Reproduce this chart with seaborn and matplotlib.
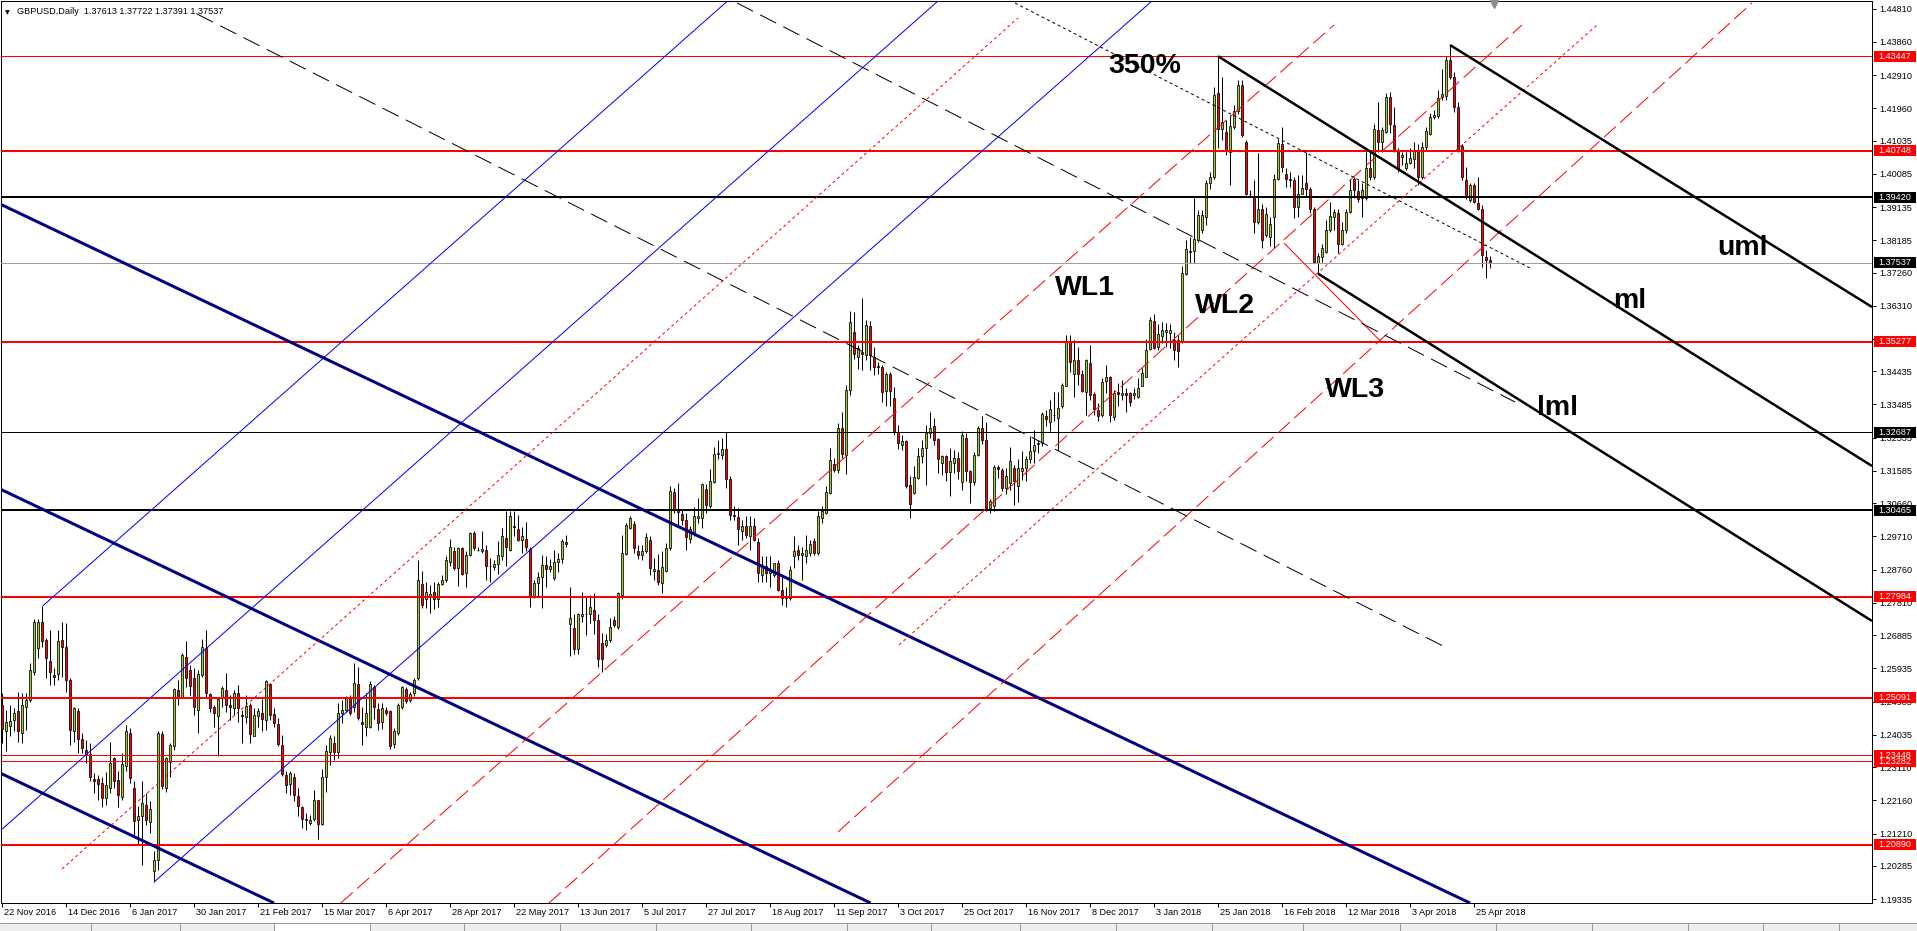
import numpy as np
import pandas as pd
import matplotlib
matplotlib.use("Agg")
import matplotlib.pyplot as plt
import matplotlib.transforms as mtransforms
from matplotlib.patches import Rectangle
import seaborn as sns

# ---------------- data (GBPUSD daily) ----------------
opens = [
1.2489,1.2413,1.2430,1.2446,1.2472,1.2408,1.2484,1.2503,1.2582,1.2651,
1.2727,1.2675,1.2615,1.2575,1.2577,1.2675,1.2656,1.2560,1.2413,1.2472,
1.2391,1.2360,1.2349,1.2277,1.2278,1.2265,1.2222,1.2251,1.2337,1.2275,
1.2225,1.2315,1.2408,1.2251,1.2159,1.2172,1.2202,1.2153,1.2015,1.2046,
1.2406,1.2251,1.2327,1.2370,1.2532,1.2513,1.2627,1.2589,1.2565,1.2473,
1.2575,1.2651,1.2519,1.2484,1.2458,1.2508,1.2532,1.2489,1.2479,1.2522,
1.2460,1.2454,1.2489,1.2400,1.2456,1.2465,1.2446,1.2549,1.2462,1.2434,
1.2375,1.2289,1.2262,1.2283,1.2229,1.2197,1.2162,1.2151,1.2162,1.2216,
1.2149,1.2283,1.2354,1.2381,1.2353,1.2467,1.2475,1.2511,1.2484,1.2548,
1.2440,1.2427,1.2427,1.2541,1.2477,1.2441,1.2475,1.2472,1.2377,1.2408,
1.2482,1.2535,1.2503,1.2522,1.2567,1.2835,1.2791,1.2798,1.2813,1.2791,
1.2835,1.2847,1.2899,1.2928,1.2880,1.2937,1.2866,1.2918,1.2981,1.2933,
1.2928,1.2933,1.2885,1.2883,1.2892,1.2914,1.2966,1.2933,1.3000,1.2992,
1.2961,1.2963,1.2935,1.2798,1.2837,1.2854,1.2890,1.2877,1.2851,1.2899,
1.2906,1.2954,1.2721,1.2710,1.2650,1.2743,1.2748,1.2750,1.2761,1.2731,
1.2665,1.2660,1.2674,1.2733,1.2712,1.2804,1.2921,1.2995,1.3007,1.2930,
1.2917,1.2928,1.2961,1.2872,1.2875,1.2839,1.2873,1.2937,1.3098,1.3048,
1.3036,1.3019,1.2963,1.2983,1.3024,1.3024,1.3106,1.3058,1.3127,1.3206,
1.3203,1.3222,1.3136,1.3033,1.3027,1.2987,1.3002,1.2971,1.3002,1.2954,
1.2861,1.2887,1.2866,1.2861,1.2894,1.2819,1.2794,1.2794,1.2914,1.2933,
1.2918,1.2915,1.2923,1.2958,1.2923,1.3025,1.3039,1.3096,1.3177,1.3160,
1.3281,1.3205,1.3391,1.3556,1.3485,1.3499,1.3489,1.3573,1.3483,1.3458,
1.3455,1.3388,1.3437,1.3366,1.3271,1.3233,1.3243,1.3117,1.3096,1.3139,
1.3202,1.3224,1.3266,1.3286,1.3249,1.3181,1.3200,1.3156,1.3181,1.3195,
1.3126,1.3252,1.3157,1.3126,1.3205,1.3281,1.3248,1.3053,1.3058,1.3170,
1.3162,1.3110,1.3124,1.3167,1.3115,1.3157,1.3167,1.3193,1.3214,1.3236,
1.3238,1.3316,1.3297,1.3318,1.3310,1.3343,1.3401,1.3528,1.3437,1.3475,
1.3437,1.3385,1.3466,1.3379,1.3333,1.3319,1.3417,1.3426,1.3314,1.3385,
1.3376,1.3381,1.3381,1.3376,1.3371,1.3401,1.3428,1.3506,1.3587,1.3512,
1.3544,1.3556,1.3553,1.3534,1.3532,1.3528,1.3723,1.3788,1.3788,1.3820,
1.3847,1.3885,1.3981,1.4000,1.4240,1.4138,1.4128,1.4071,1.4143,1.4188,
1.4262,1.4100,1.3952,1.3942,1.3871,1.3909,1.3833,1.3828,1.3885,1.3995,
1.4095,1.4009,1.3995,1.3992,1.3914,1.3952,1.3983,1.3964,1.3907,1.3754,
1.3771,1.3785,1.3847,1.3885,1.3895,1.3807,1.3847,1.3900,1.3995,1.3960,
1.3938,1.3938,1.4024,1.4000,1.4135,1.4100,1.4128,1.4227,1.4148,1.4074,
1.4057,1.4024,1.4040,1.4052,1.4076,1.4000,1.4084,1.4122,1.4170,1.4173,
1.4227,1.4230,1.4333,1.4286,1.4200,1.4087,1.3992,1.3933,1.3976,1.3924,
1.3909,1.3770,1.37613]

highs = [
1.2522,1.2475,1.2489,1.2479,1.2527,1.2522,1.2522,1.2608,1.2736,1.2736,
1.2772,1.2679,1.2703,1.2594,1.2703,1.2727,1.2722,1.2565,1.2484,1.2479,
1.2408,1.2389,1.2380,1.2294,1.2289,1.2284,1.2296,1.2384,1.2341,1.2299,
1.2351,1.2432,1.2424,1.2270,1.2199,1.2270,1.2237,1.2213,1.2070,1.2413,
1.2413,1.2341,1.2380,1.2537,1.2560,1.2638,1.2672,1.2603,1.2594,1.2589,
1.2677,1.2703,1.2522,1.2489,1.2513,1.2543,1.2579,1.2518,1.2532,1.2546,
1.2475,1.2518,1.2494,1.2479,1.2479,1.2505,1.2560,1.2553,1.2479,1.2451,
1.2403,1.2299,1.2299,1.2294,1.2251,1.2201,1.2180,1.2175,1.2246,1.2218,
1.2305,1.2375,1.2403,1.2399,1.2494,1.2503,1.2515,1.2518,1.2610,1.2597,
1.2484,1.2522,1.2556,1.2546,1.2494,1.2494,1.2484,1.2475,1.2422,1.2494,
1.2543,1.2539,1.2527,1.2565,1.2904,1.2873,1.2842,1.2832,1.2840,1.2842,
1.2861,1.2914,1.2964,1.2942,1.2942,1.2942,1.2928,1.2983,1.2987,1.2940,
1.2987,1.2947,1.2909,1.2904,1.2959,1.2995,1.3043,1.3043,1.3043,1.3033,
1.2998,1.3011,1.2942,1.2847,1.2870,1.2918,1.2914,1.2906,1.2933,1.2923,
1.2964,1.2976,1.2827,1.2750,1.2752,1.2813,1.2800,1.2804,1.2809,1.2750,
1.2694,1.2693,1.2739,1.2743,1.2813,1.2976,1.3010,1.3029,1.3015,1.2946,
1.2947,1.2981,1.2972,1.2909,1.2921,1.2928,1.2952,1.3115,1.3110,1.3125,
1.3046,1.3038,1.3000,1.3056,1.3082,1.3125,1.3120,1.3163,1.3227,1.3248,
1.3254,1.3269,1.3144,1.3058,1.3053,1.3019,1.3029,1.3029,1.3024,1.2966,
1.2914,1.2914,1.2916,1.2896,1.2904,1.2856,1.2827,1.2885,1.2971,1.2947,
1.2942,1.2976,1.2961,1.2966,1.3043,1.3058,1.3115,1.3224,1.3196,1.3295,
1.3326,1.3404,1.3616,1.3613,1.3520,1.3654,1.3589,1.3587,1.3512,1.3471,
1.3461,1.3442,1.3442,1.3398,1.3290,1.3262,1.3248,1.3143,1.3172,1.3224,
1.3248,1.3290,1.3328,1.3309,1.3254,1.3205,1.3205,1.3224,1.3219,1.3212,
1.3272,1.3266,1.3160,1.3212,1.3286,1.3316,1.3297,1.3077,1.3174,1.3176,
1.3167,1.3167,1.3227,1.3176,1.3193,1.3214,1.3200,1.3257,1.3276,1.3248,
1.3328,1.3333,1.3362,1.3383,1.3385,1.3409,1.3547,1.3547,1.3534,1.3513,
1.3447,1.3480,1.3518,1.3385,1.3352,1.3423,1.3461,1.3430,1.3390,1.3409,
1.3419,1.3395,1.3385,1.3395,1.3423,1.3452,1.3537,1.3599,1.3608,1.3580,
1.3585,1.3582,1.3580,1.3556,1.3547,1.3746,1.3819,1.3828,1.3943,1.3904,
1.3904,1.3990,1.4014,1.4257,1.4345,1.4286,1.4162,1.4176,1.4205,1.4278,
1.4278,1.4105,1.3962,1.3990,1.4067,1.3923,1.3914,1.3885,1.4009,1.4107,
1.4141,1.4024,1.4014,1.4000,1.4005,1.4005,1.4071,1.3971,1.3914,1.3781,
1.3809,1.3876,1.3928,1.3909,1.3909,1.3871,1.3909,1.3995,1.4000,1.3990,
1.3981,1.4071,1.4071,1.4152,1.4214,1.4143,1.4240,1.4243,1.4200,1.4081,
1.4071,1.4071,1.4081,1.4100,1.4095,1.4100,1.4143,1.4183,1.4190,1.4248,
1.4309,1.4345,1.4377,1.4300,1.4214,1.4095,1.4028,1.3981,1.3981,1.4000,
1.3919,1.3790,1.37722]

lows = [
1.2380,1.2356,1.2399,1.2413,1.2384,1.2381,1.2418,1.2496,1.2575,1.2622,
1.2656,1.2565,1.2546,1.2546,1.2560,1.2570,1.2527,1.2375,1.2384,1.2351,
1.2351,1.2322,1.2270,1.2237,1.2218,1.2196,1.2203,1.2237,1.2251,1.2196,
1.2218,1.2299,1.2265,1.2113,1.2089,1.2032,1.2146,1.2122,1.1983,1.2018,
1.2248,1.2241,1.2284,1.2360,1.2489,1.2508,1.2541,1.2518,1.2460,1.2408,
1.2570,1.2513,1.2470,1.2427,1.2343,1.2484,1.2470,1.2446,1.2460,1.2441,
1.2380,1.2438,1.2380,1.2399,1.2427,1.2413,1.2418,1.2446,1.2427,1.2370,
1.2286,1.2237,1.2232,1.2213,1.2170,1.2137,1.2130,1.2144,1.2156,1.2105,
1.2144,1.2240,1.2318,1.2332,1.2337,1.2437,1.2470,1.2460,1.2470,1.2446,
1.2375,1.2399,1.2422,1.2448,1.2418,1.2420,1.2460,1.2362,1.2365,1.2403,
1.2477,1.2495,1.2498,1.2515,1.2560,1.2765,1.2765,1.2753,1.2762,1.2770,
1.2831,1.2842,1.2885,1.2875,1.2829,1.2861,1.2827,1.2914,1.2933,1.2928,
1.2925,1.2847,1.2840,1.2875,1.2864,1.2904,1.2885,1.2928,1.2971,1.2957,
1.2923,1.2928,1.2770,1.2795,1.2798,1.2765,1.2827,1.2870,1.2847,1.2870,
1.2894,1.2942,1.2630,1.2635,1.2635,1.2727,1.2688,1.2724,1.2693,1.2597,
1.2583,1.2655,1.2669,1.2712,1.2707,1.2791,1.2918,1.2992,1.2923,1.2906,
1.2904,1.2923,1.2861,1.2847,1.2832,1.2808,1.2870,1.2933,1.3038,1.3005,
1.3005,1.2933,1.2952,1.2971,1.3010,1.2995,1.3038,1.3053,1.3125,1.3192,
1.3192,1.3110,1.3019,1.3019,1.2947,1.2961,1.2966,1.2933,1.2957,1.2842,
1.2842,1.2842,1.2827,1.2856,1.2816,1.2774,1.2770,1.2789,1.2880,1.2904,
1.2847,1.2894,1.2914,1.2918,1.2918,1.3010,1.3034,1.3091,1.3156,1.3153,
1.3195,1.3150,1.3377,1.3480,1.3449,1.3446,1.3475,1.3446,1.3433,1.3436,
1.3357,1.3343,1.3343,1.3262,1.3221,1.3219,1.3110,1.3025,1.3091,1.3134,
1.3181,1.3119,1.3252,1.3233,1.3153,1.3148,1.3129,1.3087,1.3153,1.3134,
1.3105,1.3129,1.3067,1.3119,1.3200,1.3236,1.3044,1.3039,1.3044,1.3139,
1.3101,1.3091,1.3105,1.3062,1.3069,1.3132,1.3129,1.3181,1.3181,1.3210,
1.3229,1.3286,1.3272,1.3300,1.3219,1.3338,1.3400,1.3442,1.3369,1.3404,
1.3383,1.3319,1.3362,1.3319,1.3300,1.3314,1.3381,1.3297,1.3305,1.3343,
1.3362,1.3328,1.3343,1.3364,1.3366,1.3400,1.3426,1.3504,1.3506,1.3504,
1.3523,1.3512,1.3509,1.3477,1.3455,1.3523,1.3719,1.3754,1.3754,1.3814,
1.3838,1.3861,1.3966,1.3995,1.4081,1.4105,1.4062,1.3976,1.4138,1.4181,
1.4114,1.3947,1.3942,1.3838,1.3866,1.3795,1.3828,1.3801,1.3795,1.3990,
1.4014,1.3971,1.3971,1.3881,1.3885,1.3950,1.3945,1.3895,1.3754,1.3723,
1.3757,1.3781,1.3842,1.3847,1.3781,1.3804,1.3838,1.3895,1.3938,1.3928,
1.3885,1.3933,1.3990,1.3995,1.4071,1.4071,1.4124,1.4124,1.4071,1.4014,
1.4033,1.4019,1.4036,1.4024,1.3976,1.3995,1.4076,1.4119,1.4165,1.4167,
1.4219,1.4221,1.4281,1.4186,1.4071,1.3990,1.3935,1.3928,1.3924,1.3904,
1.3743,1.3710,1.37391]

closes = [
1.2420,1.2441,1.2443,1.2467,1.2413,1.2489,1.2503,1.2589,1.2727,1.2727,
1.2673,1.2622,1.2584,1.2568,1.2672,1.2654,1.2560,1.2416,1.2479,1.2391,
1.2365,1.2349,1.2284,1.2271,1.2263,1.2222,1.2261,1.2324,1.2270,1.2232,
1.2321,1.2415,1.2280,1.2156,1.2172,1.2208,1.2159,1.2191,1.2045,1.2408,
1.2256,1.2337,1.2375,1.2534,1.2515,1.2632,1.2565,1.2543,1.2484,1.2577,
1.2654,1.2522,1.2479,1.2465,1.2505,1.2537,1.2489,1.2482,1.2522,1.2479,
1.2458,1.2486,1.2406,1.2460,1.2472,1.2448,1.2556,1.2460,1.2437,1.2378,
1.2291,1.2261,1.2294,1.2232,1.2199,1.2163,1.2160,1.2160,1.2218,1.2149,
1.2283,1.2356,1.2394,1.2353,1.2465,1.2473,1.2511,1.2467,1.2553,1.2451,
1.2434,1.2465,1.2548,1.2482,1.2437,1.2479,1.2465,1.2372,1.2413,1.2489,
1.2539,1.2499,1.2519,1.2560,1.2845,1.2774,1.2813,1.2805,1.2791,1.2835,
1.2847,1.2904,1.2940,1.2882,1.2937,1.2864,1.2918,1.2981,1.2937,1.2931,
1.2935,1.2885,1.2886,1.2892,1.2918,1.2971,1.2940,1.3030,1.2998,1.2961,
1.2973,1.2940,1.2800,1.2839,1.2856,1.2890,1.2877,1.2887,1.2899,1.2906,
1.2957,1.2949,1.2739,1.2650,1.2748,1.2748,1.2750,1.2770,1.2731,1.2621,
1.2621,1.2674,1.2713,1.2717,1.2808,1.2923,1.3005,1.3024,1.2938,1.2917,
1.2928,1.2969,1.2880,1.2877,1.2842,1.2883,1.2937,1.3101,1.3048,1.3040,
1.3018,1.2969,1.2992,1.3029,1.3029,1.3120,1.3062,1.3130,1.3208,1.3209,
1.3222,1.3134,1.3033,1.3029,1.2992,1.3000,1.2976,1.3002,1.2961,1.2866,
1.2890,1.2866,1.2872,1.2894,1.2819,1.2794,1.2798,1.2875,1.2928,1.2918,
1.2923,1.2931,1.2949,1.2925,1.3029,1.3044,1.3099,1.3191,1.3160,1.3281,
1.3207,1.3391,1.3585,1.3494,1.3509,1.3494,1.3577,1.3489,1.3455,1.3455,
1.3385,1.3437,1.3388,1.3274,1.3238,1.3243,1.3115,1.3063,1.3141,1.3200,
1.3224,1.3266,1.3281,1.3248,1.3193,1.3200,1.3156,1.3186,1.3195,1.3157,
1.3262,1.3157,1.3126,1.3205,1.3281,1.3248,1.3053,1.3072,1.3170,1.3165,
1.3110,1.3143,1.3186,1.3129,1.3167,1.3167,1.3193,1.3214,1.3233,1.3238,
1.3322,1.3307,1.3335,1.3319,1.3338,1.3404,1.3528,1.3471,1.3477,1.3437,
1.3388,1.3475,1.3376,1.3335,1.3316,1.3414,1.3428,1.3319,1.3381,1.3379,
1.3381,1.3376,1.3357,1.3381,1.3397,1.3439,1.3504,1.3589,1.3509,1.3550,
1.3563,1.3563,1.3563,1.3504,1.3502,1.3724,1.3792,1.3785,1.3823,1.3890,
1.3890,1.3983,1.4000,1.4233,1.4138,1.4157,1.4074,1.4145,1.4188,1.4262,
1.4119,1.3952,1.3950,1.3871,1.3909,1.3819,1.3893,1.3866,1.3995,1.4097,
1.4028,1.3995,1.3992,1.3914,1.3952,1.3967,1.3964,1.3907,1.3757,1.3773,
1.3795,1.3847,1.3887,1.3900,1.3807,1.3847,1.3900,1.3962,1.3962,1.3935,
1.3962,1.4024,1.3998,1.4138,1.4100,1.4135,1.4227,1.4152,1.4074,1.4021,
1.4062,1.4040,1.4055,1.4078,1.4000,1.4084,1.4131,1.4170,1.4176,1.4224,
1.4236,1.4335,1.4286,1.4200,1.4076,1.3998,1.3941,1.3976,1.3928,1.3909,
1.3776,1.3761,1.37537]

date_labels = ["22 Nov 2016", "14 Dec 2016", "6 Jan 2017", "30 Jan 2017", "21 Feb 2017",
               "15 Mar 2017", "6 Apr 2017", "28 Apr 2017", "22 May 2017", "13 Jun 2017",
               "5 Jul 2017", "27 Jul 2017", "18 Aug 2017", "11 Sep 2017", "3 Oct 2017",
               "25 Oct 2017", "16 Nov 2017", "8 Dec 2017", "3 Jan 2018", "25 Jan 2018",
               "16 Feb 2018", "12 Mar 2018", "3 Apr 2018", "25 Apr 2018"]
date_label_bars = list(range(0, 16 * len(date_labels), 16))

price_ticks = [1.44810, 1.43860, 1.42910, 1.41960, 1.41035, 1.40085, 1.39135, 1.38185,
               1.37260, 1.36310, 1.35360, 1.34435, 1.33485, 1.32535, 1.31585, 1.30660,
               1.29710, 1.28760, 1.27810, 1.26885, 1.25935, 1.24985, 1.24035, 1.23110,
               1.22160, 1.21210, 1.20285, 1.19335]

levels       = [1.43447, 1.40748, 1.39420, 1.37537, 1.35277, 1.32687, 1.30465, 1.27984,
                1.25091, 1.23448, 1.23282, 1.20890]
level_colors = ["#FF0000", "#FF0000", "#000000", "#A0A0A0", "#FF0000", "#000000", "#000000",
                "#FF0000", "#FF0000", "#FF0000", "#FF0000", "#FF0000"]
level_px     = [1, 2, 2, 1, 2, 1, 2, 2, 2, 1, 1, 2]

# drawing objects: (bar0, price0, bar1, price1, colour, width_px, dash pattern in px)
trend_lines = [
    (10.18, 1.2772, 181.4, 1.4503, "#0000FF", 1, None),
    (-0.5, 1.21282, 234.0, 1.4503, "#0000FF", 1, None),
    (38.0, 1.1982, 287.5, 1.4503, "#0000FF", 1, None),
    (-0.5, 1.39221, 367.0, 1.19222, "#000080", 3, None),
    (-0.5, 1.31067, 217.15, 1.19222, "#000080", 3, None),
    (-0.5, 1.22942, 68.0, 1.19222, "#000080", 3, None),
    (15.0, 1.20195, 254.0, 1.44543, "#FF0000", 1, (3, 3)),
    (84.7, 1.19222, 333.0, 1.44343, "#FF0000", 1, (16, 6)),
    (136.75, 1.19222, 380.0, 1.44343, "#FF0000", 1, (16, 6)),
    (224.25, 1.26604, 398.75, 1.44343, "#FF0000", 1, (3, 3)),
    (209.0, 1.21254, 437.5, 1.44972, "#FF0000", 1, (16, 6)),
    (320.5, 1.38105, 344.75, 1.35281, "#FF0000", 1, None),
    (48.75, 1.44657, 360.25, 1.26575, "#000000", 1, (18, 8)),
    (183.75, 1.44972, 378.25, 1.33556, "#000000", 1, (18, 8)),
    (253.25, 1.44972, 382.0, 1.37390, "#000000", 1, (3, 3)),
    (362.0, 1.4377, 467.5, 1.36274, "#000000", 2.5, None),
    (304.0, 1.4345, 467.5, 1.31725, "#000000", 2.5, None),
    (329.0, 1.3723, 467.5, 1.27291, "#000000", 2.5, None),
]

annotations = [("350%", 276.5, 1.42978), ("WL1", 263.25, 1.36618), ("WL2", 298.25, 1.36103),
               ("WL3", 330.75, 1.33708), ("lml", 383.75, 1.33184), ("ml", 402.75, 1.36237),
               ("uml", 428.75, 1.37762)]

title_text = "GBPUSD,Daily  1.37613 1.37722 1.37391 1.37537"

# ---------------- figure ----------------
sns.set_theme(style="white")
plt.rcParams["font.family"] = ["Liberation Sans", "DejaVu Sans"]
plt.rcParams["text.color"] = "black"
plt.rcParams["xtick.color"] = "black"
plt.rcParams["ytick.color"] = "black"
plt.rcParams["axes.edgecolor"] = "black"

W, H, DPI = 1917, 931, 100
PX = 72.0 / DPI
fig = plt.figure(figsize=(W / DPI, H / DPI), dpi=DPI)
fig.patch.set_facecolor("white")
ax = fig.add_axes([1 / W, 28 / H, 1871 / W, 902 / H])
ax.set_facecolor("white")
XMIN, XMAX = -0.25, 467.5
YMIN, YMAX = 1.19222, 1.45029
dp = (YMAX - YMIN) / 902.0

n = min(len(opens), len(highs), len(lows), len(closes))
o = np.array(opens[:n]); c = np.array(closes[:n])
hi = np.maximum(np.array(highs[:n]), np.maximum(o, c))
lo = np.minimum(np.array(lows[:n]), np.minimum(o, c))
idx = np.arange(n)
up = c >= o

# candles
ax.vlines(idx, lo, hi, colors="black", linewidth=PX, zorder=3)
bot = np.minimum(o, c)
ht = np.maximum(np.abs(c - o), dp * 0.6)
ax.bar(idx[up], ht[up], bottom=bot[up], width=0.72, color="#9ACD32",
       edgecolor="black", linewidth=0.55, zorder=3.2)
ax.bar(idx[~up], ht[~up], bottom=bot[~up], width=0.72, color="#FF0000",
       edgecolor="black", linewidth=0.55, zorder=3.2)

# horizontal levels
for v, col, w in zip(levels, level_colors, level_px):
    ax.axhline(v, color=col, linewidth=w * PX, zorder=4)

# trend lines / pitchforks
for b0, p0, b1, p1, col, w, dash in trend_lines:
    d = pd.DataFrame({"bar": [b0, b1], "price": [p0, p1]})
    sns.lineplot(data=d, x="bar", y="price", ax=ax, color=col, linewidth=w * PX,
                 estimator=None, sort=False, legend=False, zorder=5)
    ln = ax.lines[-1]
    ln.set_solid_capstyle("butt")
    if dash is not None:
        ln.set_dashes(dash)
        ln.set_dash_capstyle("butt")

# big labels
for t, xb, yp in annotations:
    ax.text(xb, yp, t, fontsize=20.5, fontweight="bold", color="black",
            ha="left", va="baseline", zorder=8, family=["Liberation Sans", "DejaVu Sans"])

ax.set_xlim(XMIN, XMAX)
ax.set_ylim(YMIN, YMAX)
ax.set_xlabel("")
ax.set_ylabel("")
ax.grid(False)
for s in ax.spines.values():
    s.set_visible(True)
    s.set_color("black")
    s.set_linewidth(PX)

# right price axis
ax.yaxis.tick_right()
ax.set_yticks(price_ticks)
ax.set_yticklabels([f"{t:.5f}" for t in price_ticks])
ax.tick_params(axis="y", which="major", direction="out", length=4 * PX, width=PX,
               pad=2.2, labelsize=6.6, right=True, left=False, labelright=True, labelleft=False)

# bottom date axis
ax.set_xticks(date_label_bars)
ax.set_xticklabels(date_labels)
ax.tick_params(axis="x", which="major", direction="out", length=4 * PX, width=PX,
               pad=1.0, labelsize=6.6, bottom=True, top=False)
offset = mtransforms.ScaledTranslation(2 / DPI, 0, fig.dpi_scale_trans)
for lab in ax.get_xticklabels():
    lab.set_horizontalalignment("left")
    lab.set_transform(lab.get_transform() + offset)

# price label boxes on the axis
trans = mtransforms.blended_transform_factory(ax.transAxes, ax.transData)
bx0 = (1874 - 1) / 1871.0
bw = 42 / 1871.0
bh = 11 * dp
for v, col in zip(levels, level_colors):
    bg = "#FF0000" if col == "#FF0000" else "#000000"
    ax.add_patch(Rectangle((bx0, v - bh / 2), bw, bh, transform=trans, facecolor=bg,
                           edgecolor="none", clip_on=False, zorder=20))
    ax.text((1878 - 1) / 1871.0, v, f"{v:.5f}", transform=trans, color="white",
            fontsize=6.6, ha="left", va="center", clip_on=False, zorder=21)

# chart-shift marker at the top
ax.plot([373], [YMAX - 3 * dp], marker="v", markersize=5.5, color="#8C8C8C",
        clip_on=False, zorder=9, linestyle="none")

# title in the top-left corner
fig.text(5 / W, 1 - 14 / H, "\u25BC", fontsize=4.5, color="black",
         family=["DejaVu Sans"], va="baseline", ha="left")
fig.text(17 / W, 1 - 14 / H, title_text, fontsize=6.6, color="black",
         va="baseline", ha="left")

# bottom tab strip
fig.add_artist(Rectangle((0, 0), 1, 8 / H, transform=fig.transFigure,
                         facecolor="#EDEDED", edgecolor="none", zorder=0))
fig.add_artist(Rectangle((274 / W, 0), 96 / W, 8 / H, transform=fig.transFigure,
                         facecolor="white", edgecolor="none", zorder=0.5))
fig.add_artist(plt.Line2D([0, 1], [8 / H, 8 / H], transform=fig.transFigure,
                          color="#9A9A9A", linewidth=PX))
for xe in [91, 180, 274, 370, 464, 560, 656, 751, 847, 931, 1020, 1116, 1212, 1303,
           1400, 1496, 1592, 1688, 1763, 1839]:
    fig.add_artist(plt.Line2D([xe / W, xe / W], [0, 7 / H], transform=fig.transFigure,
                              color="#9A9A9A", linewidth=PX))

fig.savefig("out.png", dpi=DPI, facecolor="white")
